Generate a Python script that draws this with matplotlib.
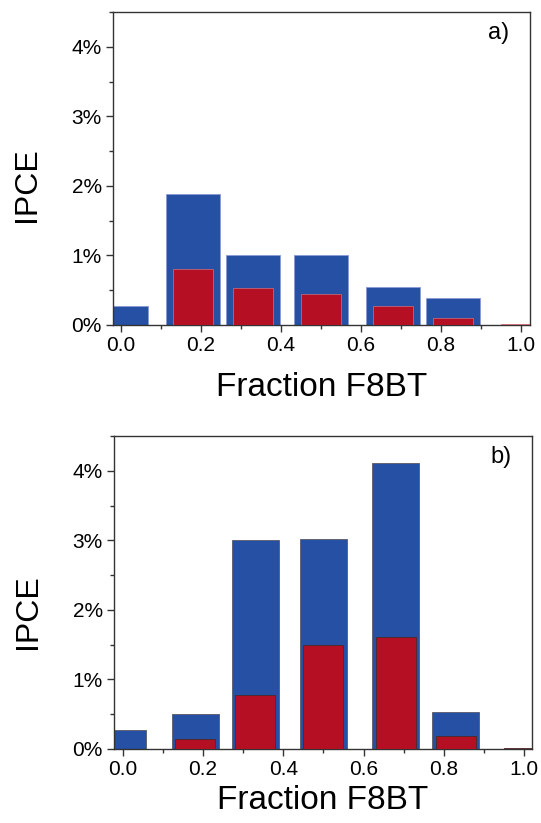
import matplotlib
matplotlib.use("Agg")
import matplotlib.pyplot as plt
from matplotlib.ticker import MultipleLocator, FuncFormatter

plt.rcParams['font.family'] = ['Liberation Sans', 'DejaVu Sans']

# F8BT fraction of each blend
fraction = [0.0, 0.18, 0.33, 0.50, 0.68, 0.83, 1.0]

# IPCE (%) for panel a
ipce_a_blue = [0.28, 1.88, 1.00, 1.00, 0.54, 0.39, 0.006]
ipce_a_red = [0.0, 0.80, 0.53, 0.44, 0.27, 0.105, 0.02]

# IPCE (%) for panel b
ipce_b_blue = [0.27, 0.50, 3.00, 3.02, 4.11, 0.53, 0.006]
ipce_b_red = [0.0, 0.14, 0.78, 1.50, 1.61, 0.19, 0.02]

x_ticks = [0.0, 0.2, 0.4, 0.6, 0.8, 1.0]
y_ticks = [0, 1, 2, 3, 4]

BLUE = '#2550A3'
RED = '#B50F23'
SPINE = '#333333'

W, H = 541, 823
fig = plt.figure(figsize=(W / 100, H / 100), dpi=100)


def make_axes(left_px, right_px, top_px, bottom_px):
    return fig.add_axes([left_px / W, 1 - bottom_px / H,
                         (right_px - left_px) / W, (bottom_px - top_px) / H])


def style(ax, xlim, tag, ylab_y, xlab_y):
    ax.set_xlim(*xlim)
    ax.set_ylim(0, 4.5)
    ax.set_xticks(x_ticks)
    ax.xaxis.set_minor_locator(MultipleLocator(0.1))
    ax.set_yticks(y_ticks)
    ax.yaxis.set_minor_locator(MultipleLocator(0.5))
    ax.xaxis.set_major_formatter(FuncFormatter(lambda v, p: f"{v:.1f}"))
    ax.yaxis.set_major_formatter(FuncFormatter(lambda v, p: f"{int(round(v))}%"))
    ax.tick_params(which='major', direction='out', length=5, width=1,
                   color=SPINE, labelsize=15, pad=3)
    ax.tick_params(which='minor', direction='out', length=3, width=1, color=SPINE)
    for s in ax.spines.values():
        s.set_color(SPINE)
        s.set_linewidth(1.0)
    ax.set_xlabel('Fraction F8BT', fontsize=24)
    ax.xaxis.set_label_coords(0.5, xlab_y)
    ax.set_ylabel('IPCE', fontsize=23)
    ax.yaxis.set_label_coords(-0.17, ylab_y)
    ax.text(0.95, 0.968, tag, transform=ax.transAxes, ha='right', va='top',
            fontsize=17)


# panel a
ax_a = make_axes(113, 530, 12, 325)
ax_a.bar(fraction, ipce_a_blue, width=0.135, color=BLUE,
         edgecolor='#8a9ad6', linewidth=0.6, zorder=2)
ax_a.bar(fraction, ipce_a_red, width=0.10, color=RED,
         edgecolor='#d0707c', linewidth=0.5, zorder=3)
style(ax_a, (-0.019, 1.022), 'a)', 0.45, -0.15)

# panel b
ax_b = make_axes(114, 532, 436, 749)
ax_b.bar(fraction, ipce_b_blue, width=0.117, color=BLUE,
         edgecolor='#5a5a6a', linewidth=0.6, zorder=2)
ax_b.bar(fraction, ipce_b_red, width=0.10, color=RED,
         edgecolor='#4a2a2a', linewidth=0.6, zorder=3)
style(ax_b, (-0.022, 1.02), 'b)', 0.44, -0.115)

fig.savefig('out.png', dpi=100)
